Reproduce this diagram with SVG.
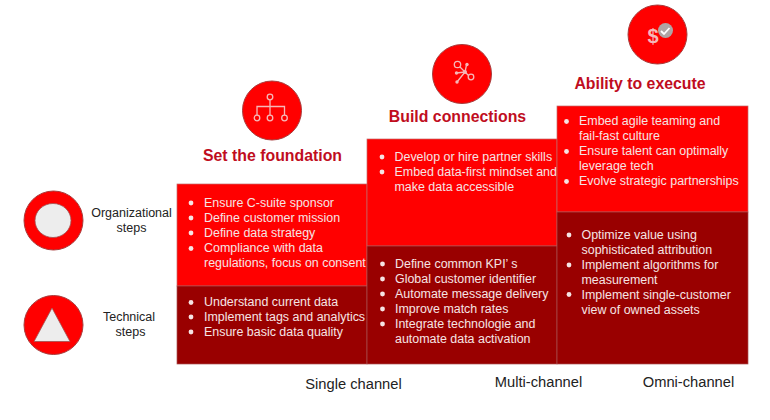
<svg xmlns="http://www.w3.org/2000/svg" width="770" height="420" viewBox="0 0 770 420">
<style>
text{font-family:"Liberation Sans",Arial,sans-serif}
.b{font-size:12.45px;fill:#f6e4e4}
.d{fill:#f6e4e4}
.l{font-size:12.5px;fill:#222;text-anchor:middle}
.x{font-size:14.7px;fill:#222;text-anchor:middle}
.h{font-size:15.85px;font-weight:700;fill:#c00d1e;text-anchor:middle}
.c{fill:#f00;stroke:#a83c3c;stroke-width:1}
.r{fill:#f00;stroke:#c46a6a;stroke-width:.7}
.k{fill:#990000;stroke:#a85050;stroke-width:.7}
.i{fill:none;stroke:#f5b8b8;stroke-width:1.3}
.g{fill:#ededed;stroke:#a05050;stroke-width:.8}
</style>
<rect width="770" height="420" fill="#fff"/>
<g id="legend-org"><circle class="c" cx="53.500" cy="220.500" r="29.500"/><ellipse class="g" cx="53" cy="220.500" rx="18" ry="17"/><text class="l" x="131.500" y="217">Organizational</text><text class="l" x="131.500" y="232">steps</text></g>
<g id="legend-tech"><circle class="c" cx="53.500" cy="325" r="29.500"/><path class="g" d="M52 308L70 341.500H34Z"/><text class="l" x="129" y="321">Technical</text><text class="l" x="130.500" y="336">steps</text></g>
<g id="foundation">
<circle class="c" cx="272" cy="110.500" r="29.500"/>
<g class="i"><circle cx="270" cy="97" r="2.800"/><circle cx="257" cy="118" r="2.800"/><circle cx="270" cy="118" r="2.800"/><circle cx="284.500" cy="118" r="2.800"/><path d="M270 100V106M257 115V106.500H284.500V115M270 106V115"/></g>
<text class="h" x="272.500" y="160.500">Set the foundation</text>
<rect class="r" x="177" y="184" width="190" height="102"/><rect class="k" x="177" y="286" width="190" height="78"/>
<g class="d"><circle cx="191" cy="203" r="2.400"/><circle cx="191" cy="218" r="2.400"/><circle cx="191" cy="233" r="2.400"/><circle cx="191" cy="248.500" r="2.400"/><circle cx="191" cy="302.500" r="2.400"/><circle cx="191" cy="317" r="2.400"/><circle cx="191" cy="332" r="2.400"/></g>
<text class="b" x="204" y="207">Ensure C-suite sponsor</text><text class="b" x="204" y="222">Define customer mission</text><text class="b" x="204" y="237">Define data strategy</text><text class="b" x="204" y="252">Compliance with data</text><text class="b" x="204" y="267">regulations, focus on consent</text>
<text class="b" x="204" y="306">Understand current data</text><text class="b" x="204" y="321">Implement tags and analytics</text><text class="b" x="204" y="336">Ensure basic data quality</text>
</g>
<g id="connections">
<circle class="c" cx="462" cy="74" r="29.500"/>
<g class="i"><circle cx="457.500" cy="64.500" r="3.200"/><circle cx="471" cy="77" r="2.800"/><path d="M460 67L465 72L468.500 75.500M465 72L466.500 65M465 72L456.500 73M465 72L457 82"/></g>
<g fill="#f5b8b8"><circle cx="467" cy="64.500" r="1.700"/><circle cx="456.500" cy="73" r="1.700"/><circle cx="457" cy="82" r="1.700"/><circle cx="465" cy="72" r="2"/></g>
<text class="h" x="457.500" y="121.500">Build connections</text>
<rect class="r" x="367" y="139" width="190" height="107"/><rect class="k" x="367" y="246" width="190" height="118"/>
<g class="d"><circle cx="382" cy="157" r="2.400"/><circle cx="382" cy="172" r="2.400"/><circle cx="382.500" cy="264" r="2.400"/><circle cx="382.500" cy="279" r="2.400"/><circle cx="382.500" cy="294" r="2.400"/><circle cx="382.500" cy="309" r="2.400"/><circle cx="382.500" cy="324" r="2.400"/></g>
<text class="b" x="394.500" y="161">Develop or hire partner skills</text><text class="b" x="394.500" y="176">Embed data-first mindset and</text><text class="b" x="394.500" y="191">make data accessible</text>
<text class="b" x="395" y="268">Define common KPI’ s</text><text class="b" x="395" y="283">Global customer identifier</text><text class="b" x="395" y="298">Automate message delivery</text><text class="b" x="395" y="313">Improve match rates</text><text class="b" x="395" y="328">Integrate technologie and</text><text class="b" x="395" y="343">automate data activation</text>
</g>
<g id="execute">
<circle class="c" cx="657.500" cy="34.500" r="29.500"/>
<text x="653" y="43" font-size="20" font-weight="700" fill="#f5b8b8" text-anchor="middle">$</text>
<circle cx="665.500" cy="30.500" r="7.500" fill="#b0a5a5"/><path d="M661 31L664 34L669.500 28" fill="none" stroke="#fff" stroke-width="1.800"/>
<text class="h" x="640" y="88.500">Ability to execute</text>
<rect class="r" x="557" y="106" width="191" height="106"/><rect class="k" x="557" y="212" width="191" height="152"/>
<g class="d"><circle cx="566.500" cy="121.500" r="2.400"/><circle cx="566.500" cy="151.500" r="2.400"/><circle cx="566.500" cy="181.500" r="2.400"/><circle cx="569" cy="235" r="2.400"/><circle cx="569" cy="265" r="2.400"/><circle cx="569" cy="294.500" r="2.400"/></g>
<text class="b" x="579" y="125">Embed agile teaming and</text><text class="b" x="579" y="140">fail-fast culture</text><text class="b" x="579" y="155">Ensure talent can optimally</text><text class="b" x="579" y="170">leverage tech</text><text class="b" x="579" y="185">Evolve strategic partnerships</text>
<text class="b" x="581.500" y="239">Optimize value using</text><text class="b" x="581.500" y="254">sophisticated attribution</text><text class="b" x="581.500" y="269">Implement algorithms for</text><text class="b" x="581.500" y="284">measurement</text><text class="b" x="581.500" y="299">Implement single-customer</text><text class="b" x="581.500" y="314">view of owned assets</text>
</g>
<g id="axis"><text class="x" x="353.500" y="389">Single channel</text><text class="x" x="538.500" y="387">Multi-channel</text><text class="x" x="688.500" y="387">Omni-channel</text></g>
<g id="connectors"/>
</svg>
